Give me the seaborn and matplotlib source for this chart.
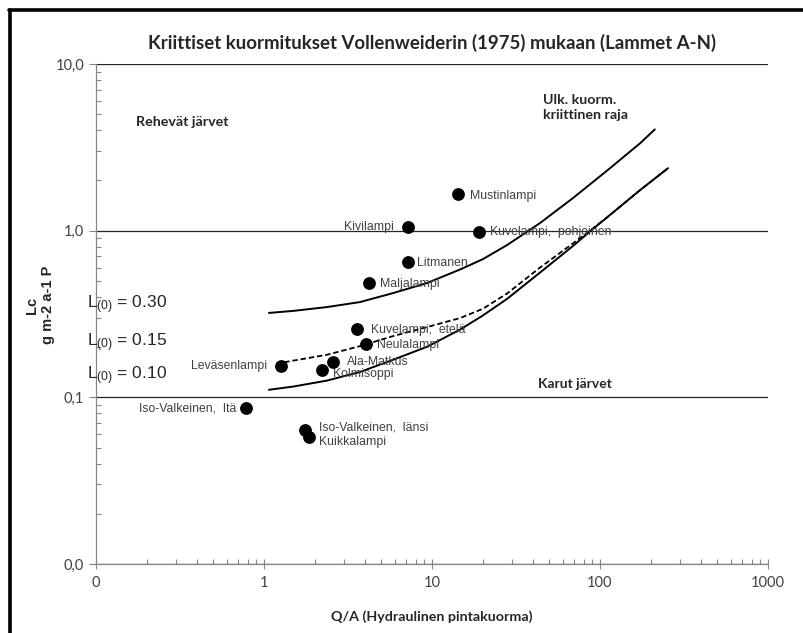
import matplotlib
matplotlib.use("Agg")
import matplotlib.pyplot as plt
import seaborn as sns
from matplotlib.lines import Line2D
from matplotlib.ticker import LogLocator, NullFormatter

# Lakes (Q/A, Lc)
lakes = ["Mustinlampi", "Kivilampi", "Kuvelampi,  pohjoinen", "Litmanen", "Maljalampi",
         "Kuvelampi,  etelä", "Neulalampi", "Ala-Matkus", "Kolmisoppi", "Leväsenlampi",
         "Iso-Valkeinen,  Itä", "Iso-Valkeinen,  länsi", "Kuikkalampi"]
qa = [14.3, 7.17, 19.1, 7.17, 4.20, 3.59, 4.03, 2.58, 2.21, 1.26, 0.78, 1.75, 1.86]
lc = [1.67, 1.045, 0.975, 0.650, 0.487, 0.256, 0.208, 0.163, 0.145, 0.155, 0.086, 0.064, 0.058]

# Vollenweider curves, L(0) = 0.30 / 0.15 / 0.10
upper_x = [1.07, 1.49, 2.37, 3.73, 5.86, 9.34, 14.7, 20.1, 28.0, 43.9, 69.1, 110, 173, 212]
upper_y = [0.321, 0.330, 0.348, 0.373, 0.422, 0.485, 0.585, 0.675, 0.82, 1.11, 1.57, 2.29, 3.34, 4.05]
mid_x = [1.18, 1.49, 2.37, 3.73, 5.86, 9.34, 14.7, 20.1, 28.0, 43.9, 69.1, 87.2, 110, 173, 254]
mid_y = [0.159, 0.166, 0.180, 0.203, 0.233, 0.264, 0.299, 0.34, 0.42, 0.60, 0.84, 1.0, 1.20, 1.75, 2.37]
lower_x = [1.07, 1.49, 2.37, 3.73, 5.86, 9.34, 14.7, 20.1, 28.0, 43.9, 69.1, 87.2, 110, 173, 254]
lower_y = [0.111, 0.116, 0.126, 0.142, 0.168, 0.201, 0.255, 0.31, 0.39, 0.56, 0.81, 0.99, 1.20, 1.75, 2.37]

x_ticks = [0.1, 1, 10, 100, 1000]
x_tick_labels = ["0", "1", "10", "100", "1000"]
y_ticks = [0.01, 0.1, 1, 10]
y_tick_labels = ["0,0", "0,1", "1,0", "10,0"]

# label offsets in points (dx, dy) and alignment
label_pos = [(8.5, -1.5, "left"), (-10, 0, "right"), (8, 0, "left"), (6.5, -0.5, "left"),
             (8, -1, "left"), (10, -0.5, "left"), (8, -0.5, "left"), (10, 0, "left"),
             (8, -2.5, "left"), (-10, -0.5, "right"), (-7, -0.5, "right"),
             (10, 1.5, "left"), (7, -3.5, "left")]

sns.set_style("white")
plt.rcParams["font.family"] = ["Liberation Sans", "DejaVu Sans"]

fig = plt.figure(figsize=(8.04, 6.33), dpi=100)
ax = fig.add_axes([96 / 804, 1 - 564 / 633, 672 / 804, 500 / 633])
ax.set_xscale("log")
ax.set_yscale("log")

sns.lineplot(x=upper_x, y=upper_y, sort=False, estimator=None, color="black", lw=1.4, ax=ax)
sns.lineplot(x=mid_x, y=mid_y, sort=False, estimator=None, color="black", lw=1.3,
             linestyle=(0, (3, 1.6)), ax=ax)
sns.lineplot(x=lower_x, y=lower_y, sort=False, estimator=None, color="black", lw=1.4, ax=ax)
sns.scatterplot(x=qa, y=lc, color="black", s=85, linewidth=0, ax=ax, zorder=4)

for name, x, y, (dx, dy, ha) in zip(lakes, qa, lc, label_pos):
    ax.annotate(name, (x, y), xytext=(dx, dy), textcoords="offset points", ha=ha, va="center",
                fontsize=8.8, color="#404040")

ax.set_xlim(0.1, 1000)
ax.set_ylim(0.01, 10)
ax.set_xticks(x_ticks, labels=x_tick_labels)
ax.set_yticks(y_ticks, labels=y_tick_labels)
ax.xaxis.set_minor_locator(LogLocator(base=10, subs=range(2, 10)))
ax.yaxis.set_minor_locator(LogLocator(base=10, subs=range(2, 10)))
ax.xaxis.set_minor_formatter(NullFormatter())
ax.yaxis.set_minor_formatter(NullFormatter())
for lab in ax.get_xticklabels() + ax.get_yticklabels():
    lab.set_fontfamily("Lato")
    lab.set_fontsize(10.5)
    lab.set_color("#404040")

ax.tick_params(which="both", bottom=True, left=True, top=False, right=False)
ax.tick_params(axis="x", which="major", direction="inout", length=7, width=0.8, color="#868686", pad=5)
ax.tick_params(axis="x", which="minor", direction="in", length=3.5, width=0.8, color="#868686")
ax.tick_params(axis="y", which="major", direction="out", length=5, width=0.8, color="#868686", pad=3.5)
ax.tick_params(axis="y", which="minor", direction="in", length=3.5, width=0.8, color="#868686")

sns.despine(ax=ax, top=True, right=True)
for s in ["left", "bottom"]:
    ax.spines[s].set_color("#868686")
    ax.spines[s].set_linewidth(0.9)
ax.yaxis.grid(True, which="major", color="#262626", lw=0.9)
ax.xaxis.grid(False)
ax.set_axisbelow(True)

ax.set_title("Kriittiset kuormitukset Vollenweiderin (1975) mukaan (Lammet A-N)",
             fontfamily="Lato", fontweight="bold", fontsize=13.4, pad=11)
ax.set_xlabel("Q/A (Hydraulinen pintakuorma)", fontfamily="Lato", fontweight="bold",
              fontsize=10.3, labelpad=15)
fig.text(40 / 804, 1 - 305 / 633, "Lc\ng m-2 a-1 P", rotation=90, ha="center", va="center",
         fontsize=10.5, fontweight="bold", multialignment="center", linespacing=1.1)

ax.text(0.0595, 0.884, "Rehevät järvet", transform=ax.transAxes, fontfamily="Lato",
        fontweight="bold", fontsize=10.3, va="center")
ax.text(0.665, 0.913, "Ulk. kuorm.\nkriittinen raja", transform=ax.transAxes, fontfamily="Lato",
        fontweight="bold", fontsize=10.3, va="center", linespacing=1.35)
ax.text(0.658, 0.36, "Karut järvet", transform=ax.transAxes, fontfamily="Lato",
        fontweight="bold", fontsize=10.0, va="center")

for txt, yy in [("0.30", 0.518), ("0.15", 0.442), ("0.10", 0.376)]:
    ax.text(-0.0134, yy, r"$\mathregular{L_{(0)}}$ = " + txt, transform=ax.transAxes,
            fontsize=12.5, color="#262626", va="center", ha="left", clip_on=False)

# outer frame
fig.add_artist(Line2D([10 / 804, 10 / 804], [0, 1 - 10 / 633], transform=fig.transFigure,
                      color="black", lw=2.6))
fig.add_artist(Line2D([8.5 / 804, 1], [1 - 10 / 633, 1 - 10 / 633], transform=fig.transFigure,
                      color="black", lw=2.6))

fig.savefig("out.png", dpi=100)
